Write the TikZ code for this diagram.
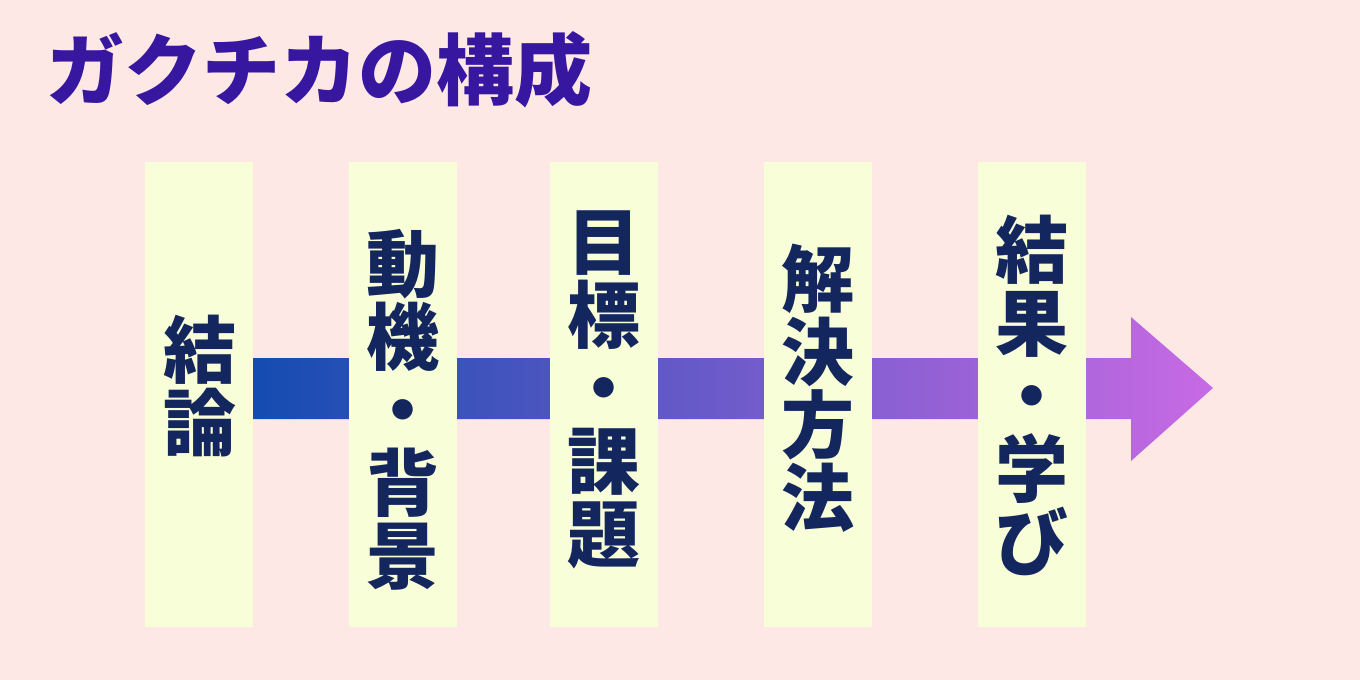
\documentclass[tikz,border=0pt]{standalone}
\usepackage{fontspec}
\newfontfamily\jp{Noto Sans CJK JP}
\definecolor{bgpink}{RGB}{253,232,230}
\definecolor{boxyellow}{RGB}{248,254,215}
\definecolor{navytext}{RGB}{19,38,94}
\definecolor{titlepurple}{RGB}{55,23,160}
\definecolor{arrowleft}{RGB}{20,76,176}
\definecolor{arrowright}{RGB}{200,106,228}
\tikzset{
  stepbox/.style={fill=boxyellow, draw=none, minimum width=108pt, minimum height=465pt, inner sep=0pt},
  steptext/.style={text=navytext, font=\jp\bfseries\fontsize{73}{73}\selectfont, align=center, inner sep=0pt},
}
\begin{document}
\begin{tikzpicture}[x=1pt,y=-1pt]
\fill[bgpink] (0,0) rectangle (1360,680);
\useasboundingbox (0,0) rectangle (1360,680);
\node[anchor=west, text=titlepurple, font=\jp\bfseries\fontsize{78}{78}\selectfont, inner sep=0pt] (title) at (46,70) {ガクチカの構成};
% arrow
\coordinate (tail) at (252,388);
\coordinate (tip) at (1213,388);
\shade[left color=arrowleft, right color=arrowright]
  (252,358) -- (1131,358) -- (1131,317) -- (tip) -- (1131,461) -- (1131,419) -- (252,419) -- cycle;
% boxes
\node[stepbox] (b1) at (199,394.5) {};
\node[stepbox] (b2) at (403,394.5) {};
\node[stepbox] (b3) at (604,394.5) {};
\node[stepbox] (b4) at (818,394.5) {};
\node[stepbox] (b5) at (1032,394.5) {};
% texts
\node[steptext] (t1) at (200,386) {結\\論};
\node[steptext] (t2) at (403,410) {動\\機\\・\\背\\景};
\node[steptext] (t3) at (604,390) {目\\標\\・\\課\\題};
\node[steptext] (t4) at (818,388) {解\\決\\方\\法};
\node[steptext] (t5) at (1032,395) {結\\果\\・\\学\\び};
\end{tikzpicture}
\end{document}
